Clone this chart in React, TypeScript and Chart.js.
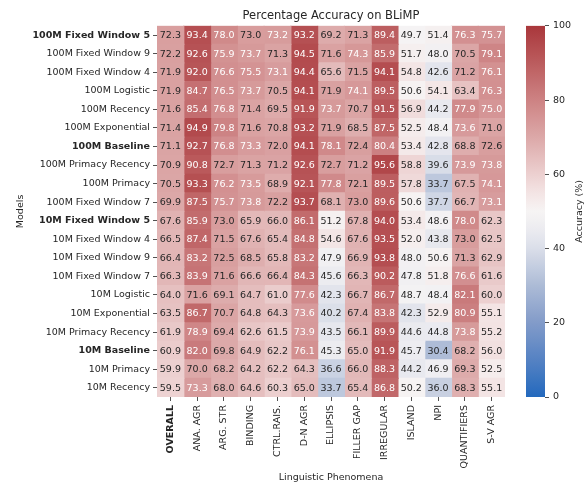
import React, { useEffect, useRef } from 'react';
import { Chart, registerables } from 'chart.js';

Chart.register(...registerables);
Chart.defaults.font.family = "'DejaVu Sans', sans-serif";
Chart.defaults.color = '#262626';

// ---------------- data ----------------
const models = [
  '100M Fixed Window 5',
  '100M Fixed Window 9',
  '100M Fixed Window 4',
  '100M Logistic',
  '100M Recency',
  '100M Exponential',
  '100M Baseline',
  '100M Primacy Recency',
  '100M Primacy',
  '100M Fixed Window 7',
  '10M Fixed Window 5',
  '10M Fixed Window 4',
  '10M Fixed Window 9',
  '10M Fixed Window 7',
  '10M Logistic',
  '10M Exponential',
  '10M Primacy Recency',
  '10M Baseline',
  '10M Primacy',
  '10M Recency',
];
const boldModels = ['100M Fixed Window 5', '100M Baseline', '10M Fixed Window 5', '10M Baseline'];

const phenomena = [
  'OVERALL', 'ANA. AGR', 'ARG. STR', 'BINDING', 'CTRL.RAIS.', 'D-N AGR', 'ELLIPSIS',
  'FILLER GAP', 'IRREGULAR', 'ISLAND', 'NPI', 'QUANTIFIERS', 'S-V AGR',
];
const boldPhenomena = ['OVERALL'];

// rows follow `models`, columns follow `phenomena`
const accuracy: number[][] = [
  [72.3, 93.4, 78.0, 73.0, 73.2, 93.2, 69.2, 71.3, 89.4, 49.7, 51.4, 76.3, 75.7],
  [72.2, 92.6, 75.9, 73.7, 71.3, 94.5, 71.6, 74.3, 85.9, 51.7, 48.0, 70.5, 79.1],
  [71.9, 92.0, 76.6, 75.5, 73.1, 94.4, 65.6, 71.5, 94.1, 54.8, 42.6, 71.2, 76.1],
  [71.9, 84.7, 76.5, 73.7, 70.5, 94.1, 71.9, 74.1, 89.5, 50.6, 54.1, 63.4, 76.3],
  [71.6, 85.4, 76.8, 71.4, 69.5, 91.9, 73.7, 70.7, 91.5, 56.9, 44.2, 77.9, 75.0],
  [71.4, 94.9, 79.8, 71.6, 70.8, 93.2, 71.9, 68.5, 87.5, 52.5, 48.4, 73.6, 71.0],
  [71.1, 92.7, 76.8, 73.3, 72.0, 94.1, 78.1, 72.4, 80.4, 53.4, 42.8, 68.8, 72.6],
  [70.9, 90.8, 72.7, 71.3, 71.2, 92.6, 72.7, 71.2, 95.6, 58.8, 39.6, 73.9, 73.8],
  [70.5, 93.3, 76.2, 73.5, 68.9, 92.1, 77.8, 72.1, 89.5, 57.8, 33.7, 67.5, 74.1],
  [69.9, 87.5, 75.7, 73.8, 72.2, 93.7, 68.1, 73.0, 89.6, 50.6, 37.7, 66.7, 73.1],
  [67.6, 85.9, 73.0, 65.9, 66.0, 86.1, 51.2, 67.8, 94.0, 53.4, 48.6, 78.0, 62.3],
  [66.5, 87.4, 71.5, 67.6, 65.4, 84.8, 54.6, 67.6, 93.5, 52.0, 43.8, 73.0, 62.5],
  [66.4, 83.2, 72.5, 68.5, 65.8, 83.2, 47.9, 66.9, 93.8, 48.0, 50.6, 71.3, 62.9],
  [66.3, 83.9, 71.6, 66.6, 66.4, 84.3, 45.6, 66.3, 90.2, 47.8, 51.8, 76.6, 61.6],
  [64.0, 71.6, 69.1, 64.7, 61.0, 77.6, 42.3, 66.7, 86.7, 48.7, 48.4, 82.1, 60.0],
  [63.5, 86.7, 70.7, 64.8, 64.3, 73.6, 40.2, 67.4, 83.8, 42.3, 52.9, 80.9, 55.1],
  [61.9, 78.9, 69.4, 62.6, 61.5, 73.9, 43.5, 66.1, 89.9, 44.6, 44.8, 73.8, 55.2],
  [60.9, 82.0, 69.8, 64.9, 62.2, 76.1, 45.3, 65.0, 91.9, 45.7, 30.4, 68.2, 56.0],
  [59.9, 70.0, 68.2, 64.2, 62.2, 64.3, 36.6, 66.0, 88.3, 44.2, 46.9, 69.3, 52.5],
  [59.5, 73.3, 68.0, 64.6, 60.3, 65.0, 33.7, 65.4, 86.8, 50.2, 36.0, 68.3, 55.1],
];

const scaleMin = 0;
const scaleMax = 100;
const colorbarStep = 20;

// ---------------- styling ----------------
const TEXT = '#262626';
const FONT_SIZE = 9.5;

// approximation of seaborn's "vlag" colormap
const vlagStops: number[][] = [
  [0.0, 35, 105, 189],
  [0.1, 85, 130, 195],
  [0.2, 130, 155, 201],
  [0.3, 172, 187, 214],
  [0.4, 218, 222, 233],
  [0.45, 235, 235, 240],
  [0.5, 246, 244, 244],
  [0.55, 243, 228, 228],
  [0.6, 236, 208, 208],
  [0.7, 220, 168, 168],
  [0.8, 205, 130, 131],
  [0.9, 187, 92, 94],
  [1.0, 169, 55, 59],
];

function cmap(t: number): number[] {
  const tt = Math.max(0, Math.min(1, t));
  for (let k = 1; k < vlagStops.length; k++) {
    const a = vlagStops[k - 1];
    const b = vlagStops[k];
    if (tt <= b[0]) {
      const f = (tt - a[0]) / (b[0] - a[0]);
      return [a[1] + (b[1] - a[1]) * f, a[2] + (b[2] - a[2]) * f, a[3] + (b[3] - a[3]) * f];
    }
  }
  const l = vlagStops[vlagStops.length - 1];
  return [l[1], l[2], l[3]];
}
const toT = (v: number) => (v - scaleMin) / (scaleMax - scaleMin);
const rgbStr = (c: number[]) => `rgb(${Math.round(c[0])},${Math.round(c[1])},${Math.round(c[2])})`;
function luminance(c: number[]) {
  const lin = c.map((x) => {
    const s = x / 255;
    return s <= 0.03928 ? s / 12.92 : Math.pow((s + 0.055) / 1.055, 2.4);
  });
  return 0.2126 * lin[0] + 0.7152 * lin[1] + 0.0722 * lin[2];
}
const cellColor = (v: number) => rgbStr(cmap(toT(v)));
const cellTextColor = (v: number) => (luminance(cmap(toT(v))) > 0.408 ? TEXT : '#ffffff');

const cellLabels = {
  id: 'cellLabels',
  afterDatasetsDraw(chart: any) {
    const ctx = chart.ctx;
    ctx.save();
    ctx.font = `${FONT_SIZE}px 'DejaVu Sans', sans-serif`;
    ctx.textAlign = 'center';
    ctx.textBaseline = 'middle';
    chart.data.datasets.forEach((_ds: any, j: number) => {
      const meta = chart.getDatasetMeta(j);
      meta.data.forEach((el: any, i: number) => {
        const p = el.getProps(['x', 'y', 'base'], true);
        const v = accuracy[i][j];
        ctx.fillStyle = cellTextColor(v);
        ctx.fillText(v.toFixed(1), (p.x + p.base) / 2, p.y + 0.5);
      });
    });
    ctx.restore();
  },
};

const colorbarLabel = {
  id: 'colorbarLabel',
  afterDraw(chart: any) {
    const { ctx, chartArea } = chart;
    ctx.save();
    ctx.font = `${FONT_SIZE}px 'DejaVu Sans', sans-serif`;
    ctx.fillStyle = TEXT;
    ctx.textAlign = 'center';
    ctx.textBaseline = 'middle';
    ctx.translate(80, (chartArea.top + chartArea.bottom) / 2);
    ctx.rotate(-Math.PI / 2);
    ctx.fillText('Accuracy (%)', 0, 0);
    ctx.restore();
  },
};

export default function App() {
  const mainRef = useRef<HTMLCanvasElement>(null);
  const barRef = useRef<HTMLCanvasElement>(null);

  useEffect(() => {
    const datasets = phenomena.map((p, j) => ({
      label: p,
      data: models.map(() => 1),
      backgroundColor: models.map((_m, i) => cellColor(accuracy[i][j])),
      borderWidth: 0,
      barPercentage: 1,
      categoryPercentage: 1,
      inflateAmount: 0.6,
    }));

    const main = new Chart(mainRef.current as HTMLCanvasElement, {
      type: 'bar',
      data: { labels: models, datasets },
      options: {
        indexAxis: 'y',
        responsive: false,
        animation: false,
        events: [],
        layout: { padding: { left: 0, right: 81, top: 0, bottom: 0 } },
        plugins: {
          legend: { display: false },
          tooltip: { enabled: false },
          title: {
            display: true,
            text: 'Percentage Accuracy on BLiMP',
            fullSize: false,
            color: TEXT,
            font: { size: 11.5, weight: 'normal' },
            padding: { top: 9, bottom: 3 },
          },
        },
        scales: {
          x: {
            type: 'linear',
            stacked: true,
            min: 0,
            max: phenomena.length,
            afterBuildTicks: (scale: any) => {
              scale.ticks = phenomena.map((_p, j) => ({ value: j + 0.5 }));
            },
            afterFit: (scale: any) => {
              scale.height = 86;
            },
            ticks: {
              autoSkip: false,
              minRotation: 90,
              maxRotation: 90,
              padding: 4,
              color: TEXT,
              font: (c: any) => ({
                size: FONT_SIZE,
                weight: boldPhenomena.includes(phenomena[c.index]) ? 'bold' : 'normal',
              }),
              callback: (_v: any, i: number) => phenomena[i],
            },
            grid: { drawOnChartArea: false, tickLength: 4, color: TEXT, lineWidth: 0.8 },
            border: { display: false },
            title: {
              display: true,
              text: 'Linguistic Phenomena',
              color: TEXT,
              font: { size: FONT_SIZE },
              padding: { top: 0, bottom: 0 },
            },
          },
          y: {
            type: 'category',
            stacked: true,
            offset: true,
            afterFit: (scale: any) => {
              scale.width = 157;
            },
            ticks: {
              autoSkip: false,
              padding: 3,
              color: TEXT,
              font: (c: any) => ({
                size: FONT_SIZE,
                weight: boldModels.includes(models[c.index]) ? 'bold' : 'normal',
              }),
            },
            grid: { offset: false, drawOnChartArea: false, tickLength: 4, color: TEXT, lineWidth: 0.8 },
            border: { display: false },
            title: {
              display: true,
              text: 'Models',
              color: TEXT,
              font: { size: FONT_SIZE },
              padding: { top: 15, bottom: 0 },
            },
          },
        },
      },
      plugins: [cellLabels],
    } as any);

    const gradientFor = (chart: any) => {
      const area = chart.chartArea;
      if (!area) return cellColor(scaleMax);
      const g = chart.ctx.createLinearGradient(0, area.bottom, 0, area.top);
      for (let k = 0; k <= 40; k++) {
        const t = k / 40;
        g.addColorStop(t, rgbStr(cmap(t)));
      }
      return g;
    };

    const bar = new Chart(barRef.current as HTMLCanvasElement, {
      type: 'bar',
      data: {
        labels: [''],
        datasets: [
          {
            data: [[scaleMin, scaleMax]],
            backgroundColor: (c: any) => gradientFor(c.chart),
            borderWidth: 0,
            barPercentage: 1,
            categoryPercentage: 1,
          },
        ],
      },
      options: {
        responsive: false,
        animation: false,
        events: [],
        layout: { padding: { left: 26, top: 25.8, right: 0, bottom: 86 } },
        plugins: { legend: { display: false }, tooltip: { enabled: false } },
        scales: {
          x: { display: false },
          y: {
            position: 'right',
            min: scaleMin,
            max: scaleMax,
            afterFit: (scale: any) => {
              scale.width = 41;
            },
            ticks: { stepSize: colorbarStep, padding: 4, color: TEXT, font: { size: FONT_SIZE } },
            grid: { drawOnChartArea: false, tickLength: 4, color: TEXT, lineWidth: 0.8 },
            border: { display: false },
          },
        },
      },
      plugins: [colorbarLabel],
    } as any);

    return () => {
      main.destroy();
      bar.destroy();
    };
  }, []);

  return (
    <div style={{ position: 'absolute', left: 0, top: 0, width: 586, height: 483, background: '#ffffff' }}>
      <canvas ref={mainRef} width={586} height={483} style={{ position: 'absolute', left: 0, top: 0 }} />
      <canvas ref={barRef} width={86} height={483} style={{ position: 'absolute', left: 500, top: 0 }} />
    </div>
  );
}
